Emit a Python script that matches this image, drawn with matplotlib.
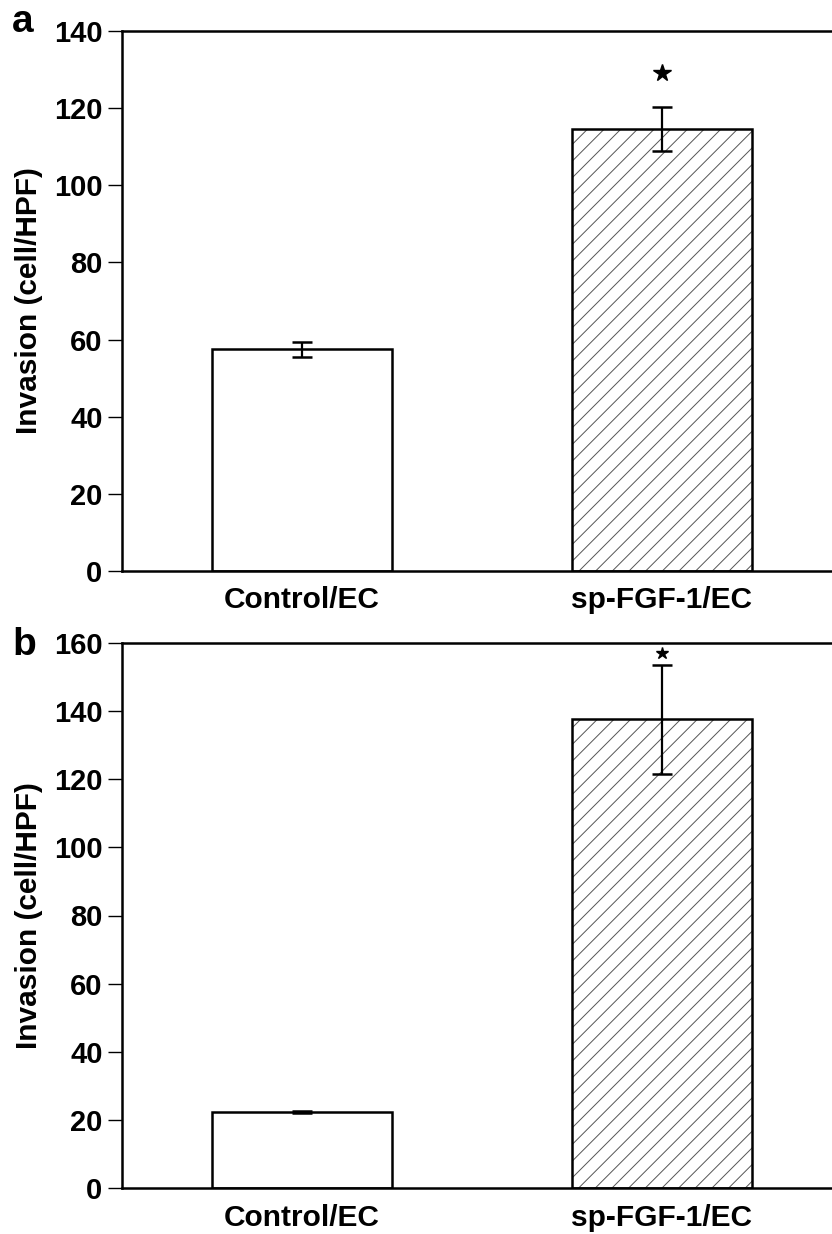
import matplotlib
matplotlib.use("Agg")
import matplotlib.pyplot as plt

plt.rcParams['font.family'] = ['Liberation Sans', 'DejaVu Sans']
plt.rcParams['font.weight'] = 'bold'
plt.rcParams['hatch.linewidth'] = 0.7

categories = ["Control/EC", "sp-FGF-1/EC"]

# Panel a
a_values = [57.5, 114.5]
a_errors = [2.0, 5.7]
a_star = 129
a_yticks = [0, 20, 40, 60, 80, 100, 120, 140]

# Panel b
b_values = [22.5, 137.6]
b_errors = [0.3, 16.0]
b_star = 157
b_yticks = [0, 20, 40, 60, 80, 100, 120, 140, 160]

W, H = 832, 1234
fig = plt.figure(figsize=(W / 100, H / 100), dpi=100)

left = 122 / W
width = (842 - 122) / W


def panel(rect, values, errors, star, yticks, star_size, letter, letter_y):
    ax = fig.add_axes(rect)
    x = [0, 1]
    hatches = ['', '//']
    for xi, v, h in zip(x, values, hatches):
        if h:
            ax.bar(xi, v, width=0.5, color='white', edgecolor='#555555',
                   hatch=h, linewidth=0, zorder=2)
        else:
            ax.bar(xi, v, width=0.5, color='white', linewidth=0, zorder=2)
        ax.bar(xi, v, width=0.5, fill=False, edgecolor='black',
               linewidth=1.8, zorder=3)
    ax.errorbar(x, values, yerr=errors, fmt='none', ecolor='black',
                elinewidth=1.6, capsize=7.5, capthick=1.8, zorder=4)
    ax.plot([1], [star], marker='*', color='black', markersize=star_size,
            linestyle='none', zorder=5, clip_on=False)
    ax.set_xlim(-0.5, 1.5)
    ax.set_ylim(0, yticks[-1])
    ax.set_yticks(yticks)
    ax.set_xticks(x)
    ax.set_xticklabels(categories, fontsize=21.5, fontweight='bold')
    ax.tick_params(axis='x', length=0, pad=11)
    ax.tick_params(axis='y', length=10, width=1.0, pad=4, labelsize=21)
    for t in ax.get_yticklabels():
        t.set_fontweight('bold')
    ax.spines['right'].set_visible(False)
    for s in ['left', 'bottom', 'top']:
        ax.spines[s].set_linewidth(1.8)
    ax.set_ylabel("Invasion (cell/HPF)", fontsize=21.5, fontweight='bold')
    axw = rect[2] * W
    ax.yaxis.set_label_coords(-(122 - 43) / axw, 0.5)
    fig.text(12 / W, 1 - letter_y / H, letter, fontsize=28, fontweight='bold',
             ha='left', va='baseline')
    return ax


rect_a = [left, 1 - 571 / H, width, (571 - 31) / H]
rect_b = [left, 1 - 1188.3 / H, width, (1188.3 - 642.7) / H]
panel(rect_a, a_values, a_errors, a_star, a_yticks, 13, 'a', 32)
panel(rect_b, b_values, b_errors, b_star, b_yticks, 9, 'b', 655)

fig.savefig("out.png", dpi=100)
